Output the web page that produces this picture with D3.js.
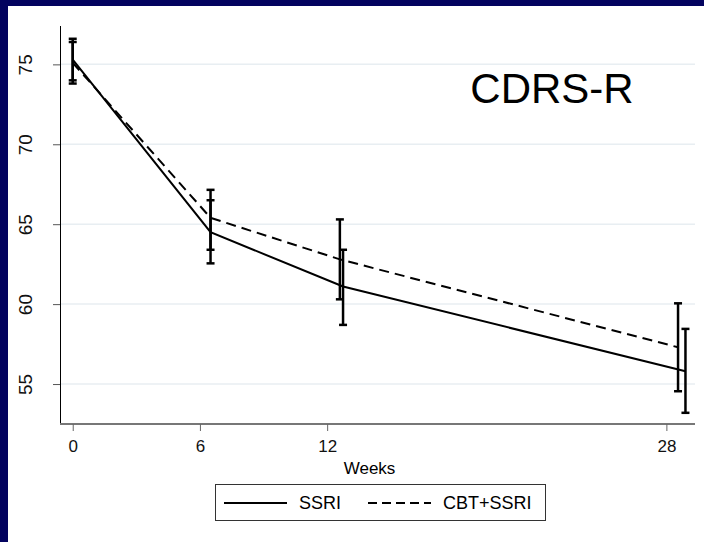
<!DOCTYPE html>
<html>
<head>
<meta charset="utf-8">
<script src="https://cdn.jsdelivr.net/npm/d3@7"></script>
<style>
  body { margin: 0; background: #03035f; }
  svg { display: block; font-family: "Liberation Sans", Arial, sans-serif; }
</style>
</head>
<body>
<div id="chart"></div>
<script>
// weeks (x position where each group's point was drawn)
const weeksTicks = [0, 6, 12, 28];
const ssriWeeks = [0, 6.5, 12.75, 28.9];
const cbtWeeks = [0, 6.5, 12.6, 28.55];

// CDRS-R means and confidence limits
const ssriMean = [75.3, 64.5, 61.1, 55.8];
const ssriLow = [74.0, 62.55, 58.7, 53.2];
const ssriHigh = [76.6, 66.5, 63.4, 58.45];

const cbtMean = [75.1, 65.4, 62.8, 57.3];
const cbtLow = [73.8, 63.4, 60.3, 54.55];
const cbtHigh = [76.4, 67.15, 65.3, 60.05];

const yTicks = [55, 60, 65, 70, 75];

const width = 704, height = 542;
const margin = {top: 26, right: 9, bottom: 118, left: 60};
const plot_width = width - margin.left - margin.right;
const plot_height = height - margin.top - margin.bottom;

const svg = d3.select("#chart").append("svg")
    .attr("width", width)
    .attr("height", height);

// white panel inside the navy frame
svg.append("rect")
    .attr("x", 8).attr("y", 6)
    .attr("width", width - 8).attr("height", height - 6)
    .attr("fill", "white");

const g = svg.append("g")
    .attr("transform", `translate(${margin.left},${margin.top})`);

const xScale = d3.scaleLinear()
    .domain([-0.6, 29.35])
    .range([0, plot_width]);

const yScale = d3.scaleLinear()
    .domain([52.5, 77.4])
    .range([plot_height, 0]);

// gridlines
g.selectAll(".grid")
    .data(yTicks)
    .enter().append("line")
    .attr("class", "grid")
    .attr("x1", 0).attr("x2", plot_width)
    .attr("y1", d => yScale(d)).attr("y2", d => yScale(d))
    .attr("stroke", "#e8eef2")
    .attr("stroke-width", 1.5);

// y axis
const yAxis = d3.axisLeft(yScale).tickValues(yTicks).tickSize(7).tickPadding(8);
const yAxisGroup = g.append("g").call(yAxis);
yAxisGroup.select(".domain").attr("stroke", "black").attr("d", `M0.5,0V${plot_height}`);
yAxisGroup.selectAll(".tick line").attr("stroke", "#555");
yAxisGroup.selectAll("text")
    .attr("transform", "rotate(-90)")
    .attr("x", 0)
    .attr("y", -35)
    .attr("dy", "0.35em")
    .style("text-anchor", "middle")
    .style("font-size", "19px")
    .attr("fill", "#111");

// x axis
const xAxis = d3.axisBottom(xScale).tickValues(weeksTicks).tickSize(7).tickPadding(9);
const xAxisGroup = g.append("g")
    .attr("transform", `translate(0,${plot_height})`)
    .call(xAxis);
xAxisGroup.select(".domain").attr("stroke", "#777").attr("stroke-width", 2).attr("d", `M0,0H${plot_width}`);
xAxisGroup.selectAll(".tick line").attr("stroke", "#666");
xAxisGroup.selectAll("text")
    .style("font-size", "17px")
    .attr("fill", "#111");

g.append("text")
    .attr("x", xScale(14))
    .attr("y", plot_height + 50)
    .style("text-anchor", "middle")
    .style("font-size", "17px")
    .text("Weeks");

// error bars then lines
function drawSeries(weeks, mean, low, high, dash) {
    const pts = weeks.map((w, i) => ({w: w, m: mean[i], lo: low[i], hi: high[i]}));
    const bars = g.append("g");
    bars.selectAll(".bar").data(pts).enter().append("line")
        .attr("x1", d => xScale(d.w)).attr("x2", d => xScale(d.w))
        .attr("y1", d => yScale(d.lo)).attr("y2", d => yScale(d.hi))
        .attr("stroke", "black").attr("stroke-width", 2.5);
    ["lo", "hi"].forEach(k => {
        bars.selectAll(".cap-" + k).data(pts).enter().append("line")
            .attr("x1", d => xScale(d.w) - 4).attr("x2", d => xScale(d.w) + 4)
            .attr("y1", d => yScale(d[k])).attr("y2", d => yScale(d[k]))
            .attr("stroke", "black").attr("stroke-width", 2.5);
    });
    const line = d3.line().x(d => xScale(d.w)).y(d => yScale(d.m));
    g.append("path")
        .datum(pts)
        .attr("d", line)
        .attr("fill", "none")
        .attr("stroke", "black")
        .attr("stroke-width", 2)
        .attr("stroke-dasharray", dash);
}
drawSeries(ssriWeeks, ssriMean, ssriLow, ssriHigh, null);
drawSeries(cbtWeeks, cbtMean, cbtLow, cbtHigh, "10,6");

// title inside plot
svg.append("text")
    .attr("x", 552)
    .attr("y", 103)
    .style("text-anchor", "middle")
    .style("font-size", "42px")
    .text("CDRS-R");

// legend
const legend = svg.append("g");
legend.append("rect")
    .attr("x", 215.5).attr("y", 484.5)
    .attr("width", 330).attr("height", 36)
    .attr("fill", "white").attr("stroke", "#333");
const legendItems = [
    {label: "SSRI", dash: null, x: 224},
    {label: "CBT+SSRI", dash: "9,5", x: 368}
];
legendItems.forEach(d => {
    legend.append("line")
        .attr("x1", d.x).attr("x2", d.x + 63)
        .attr("y1", 503).attr("y2", 503)
        .attr("stroke", "black").attr("stroke-width", 2)
        .attr("stroke-dasharray", d.dash);
    legend.append("text")
        .attr("x", d.x + 75).attr("y", 509)
        .style("font-size", "18px")
        .text(d.label);
});
</script>
</body>
</html>
